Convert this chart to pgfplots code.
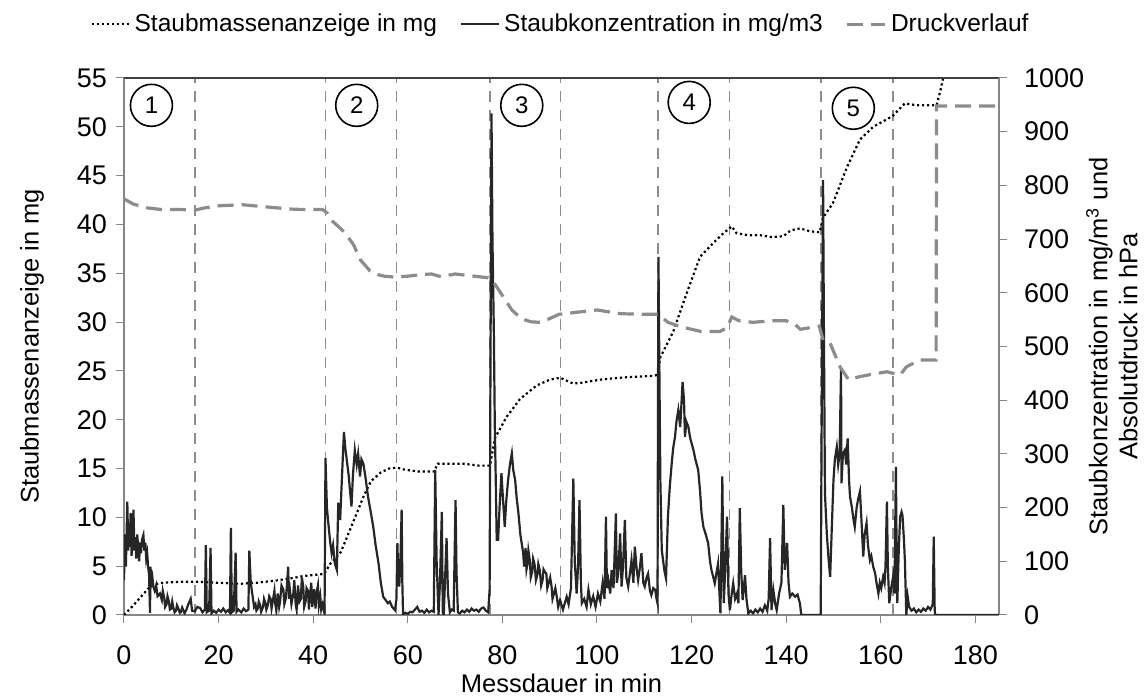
\documentclass[border=0pt]{standalone}
\usepackage{pgfplots}
\pgfplotsset{compat=1.18}
\usepackage{fontspec}
\setmainfont{Liberation Sans}
\definecolor{conc}{HTML}{262626}
\definecolor{druck}{HTML}{8C8C8C}
\definecolor{sepc}{HTML}{8C8C8C}
\definecolor{axisgray}{HTML}{868686}
\begin{document}
\begin{tikzpicture}
\pgfplotsset{
 base/.style={width=437.5pt, height=268.5pt, scale only axis, xmin=0, xmax=185,
   font=\fontsize{13.5}{16}\selectfont,
   /pgf/number format/assume math mode=true,
   /pgf/number format/1000 sep={},
   scaled ticks=false,
   tick align=outside, major tick length=4pt,
   tick style={axisgray, line width=0.5pt},
   axis line style={axisgray, line width=0.6pt},
   label style={font=\fontsize{12.75}{15}\selectfont}},
}
\begin{axis}[base, axis y line*=left, axis x line*=bottom,
  ymin=0, ymax=55, ytick={0,5,...,55}, xtick={0,20,...,180},
  xlabel={Messdauer in min},
  ylabel={Staubmassenanzeige in mg},
  xlabel style={at={(axis description cs:0.5,-0.127)}, anchor=center},
  ylabel style={at={(axis description cs:-0.105,0.5)}, anchor=center},
  xticklabel style={yshift=-8pt},
  yticklabel style={xshift=-1pt}]
\addplot[sepc, line width=0.7pt, dash pattern=on 5.5pt off 4pt, forget plot] coordinates {(15,0)(15,55)};
\addplot[sepc, line width=0.7pt, dash pattern=on 5.5pt off 4pt, forget plot] coordinates {(42.6,0)(42.6,55)};
\addplot[sepc, line width=0.7pt, dash pattern=on 5.5pt off 4pt, forget plot] coordinates {(57.6,0)(57.6,55)};
\addplot[sepc, line width=0.7pt, dash pattern=on 5.5pt off 4pt, forget plot] coordinates {(77.4,0)(77.4,55)};
\addplot[sepc, line width=0.7pt, dash pattern=on 5.5pt off 4pt, forget plot] coordinates {(92.3,0)(92.3,55)};
\addplot[sepc, line width=0.7pt, dash pattern=on 5.5pt off 4pt, forget plot] coordinates {(112.9,0)(112.9,55)};
\addplot[sepc, line width=0.7pt, dash pattern=on 5.5pt off 4pt, forget plot] coordinates {(128.0,0)(128.0,55)};
\addplot[sepc, line width=0.7pt, dash pattern=on 5.5pt off 4pt, forget plot] coordinates {(147.4,0)(147.4,55)};
\addplot[sepc, line width=0.7pt, dash pattern=on 5.5pt off 4pt, forget plot] coordinates {(162.6,0)(162.6,55)};
% Staubmassenanzeige
\addplot[black, line width=1.1pt, dash pattern=on 1.1pt off 1.4pt] coordinates {
(0,0)(2,1)(4,2.1)(5.5,2.9)(7,3.2)(8.3,3.3)(12,3.4)(15.4,3.4)(20,3.3)(24.6,3.2)(28,3.3)(31.7,3.5)(35.9,3.8)(38,4.0)(42.3,4.2)(43.7,5.3)(45.8,6.4)(47,7.8)(48.6,9.7)(50.7,12.2)(52.2,13.7)(54.3,14.6)(56,15.0)(57.7,15.1)(59.2,14.9)(62,14.7)(65.6,14.7)(66.3,15.5)(69.1,15.5)(71.7,15.5)(75,15.3)(77.4,15.3)(78.4,18.1)(80.9,20.3)(83.7,22.1)(87.2,23.5)(90,24.1)(92.2,24.3)(95,23.7)(97,23.8)(100.6,24.1)(104.8,24.3)(108,24.4)(111.9,24.5)(112.9,24.6)(113.3,26.3)(116.1,29.0)(119,33.0)(121.8,36.7)(124.6,38.1)(126.5,39)(128.5,39.8)(129.5,39.1)(132,38.9)(134.5,38.9)(137,38.7)(139.4,38.8)(141,39.4)(142.9,39.6)(145,39.3)(147.1,39.2)(147.8,40.7)(149.9,42.2)(152.8,45.8)(155.6,48.7)(158.4,50.0)(162.5,51.1)(165.1,52.4)(167.6,52.2)(171.8,52.2)(172.5,53.5)(173.2,55)(173.6,56.5)};
\draw[black!75, line width=0.6pt] (rel axis cs:0,1) -- (rel axis cs:1,1);
\node[draw, circle, line width=0.8pt, minimum size=21pt, inner sep=0pt, font=\fontsize{12}{14}\selectfont] at (axis cs:5.8,52.2) {1};
\node[draw, circle, line width=0.8pt, minimum size=21pt, inner sep=0pt, font=\fontsize{12}{14}\selectfont] at (axis cs:49.2,52.2) {2};
\node[draw, circle, line width=0.8pt, minimum size=21pt, inner sep=0pt, font=\fontsize{12}{14}\selectfont] at (axis cs:84.1,52.2) {3};
\node[draw, circle, line width=0.8pt, minimum size=21pt, inner sep=0pt, font=\fontsize{12}{14}\selectfont] at (axis cs:119.5,52.5) {4};
\node[draw, circle, line width=0.8pt, minimum size=21pt, inner sep=0pt, font=\fontsize{12}{14}\selectfont] at (axis cs:154.2,51.9) {5};
\end{axis}
\begin{axis}[base, axis y line*=right, axis x line=none,
  ymin=0, ymax=1000, ytick={0,100,...,1000},
  ylabel={Staubkonzentration in mg/m\textsuperscript{3} und\\Absolutdruck in hPa},
  ylabel style={at={(axis description cs:1.129,0.5)}, anchor=center, align=center},
  yticklabel style={xshift=5pt},
  legend style={at={(axis description cs:0.5,1.1)}, anchor=center, draw=none, fill=none,
     legend columns=3, font=\fontsize{12.25}{14}\selectfont,
     /tikz/every even column/.append style={column sep=9.5pt}},
  legend image code/.code={\draw[#1] (0pt,0pt) -- (19pt,0pt);}]
\addlegendimage{black, line width=1.1pt, dash pattern=on 1.1pt off 1.4pt}
\addlegendentry{Staubmassenanzeige in mg}
% Staubkonzentration
\addplot[conc, line width=1.1pt] coordinates {
(0,65)(0.2,150)(0.4,90)(0.7,211)(0.9,120)(1.1,160)(1.2,127)(1.4,190)(1.6,110)(1.8,140)(2.0,196)(2.2,120)(2.4,145)(2.6,105)(2.8,150)(3.0,125)(3.2,100)(3.4,135)(3.6,115)(3.8,140)(4.1,149)(4.3,120)(4.5,135)(4.7,105)(4.9,115)(5.1,90)(5.3,75)(5.5,4)(5.6,90)(5.8,60)(6.0,70)(6.2,53)(6.5,45)(6.8,55)(7.1,35)(7.6,40)(8.0,28)(8.2,45)(8.5,32)(8.7,15)(9.0,20)(9.2,35)(9.5,25)(9.7,10)(10,12)(10.2,25)(10.4,15)(10.7,5)(11,8)(11.2,18)(11.5,12)(11.8,4)(12,5)(12.3,14)(12.5,10)(12.8,3)(13.2,10)(13.6,20)(14.1,30)(14.4,8)(15,7)(15.5,15)(16.1,13)(16.6,5)(17.1,10)(17.3,130)(17.5,5)(18.0,8)(18.3,125)(18.5,3)(19,8)(19.5,4)(20,10)(20.5,6)(21,12)(21.5,5)(22,9)(22.4,4)(22.6,162)(22.8,5)(23.2,8)(23.6,116)(23.8,6)(24.2,10)(24.8,5)(25.3,12)(25.8,7)(26.3,10)(26.5,120)(26.8,60)(27.3,28)(27.5,15)(27.8,20)(28.0,8)(28.3,12)(28.5,25)(28.8,18)(29.0,6)(29.4,15)(29.6,30)(29.9,22)(30.1,10)(30.4,18)(30.7,35)(31,30)(31.2,12)(31.5,28)(31.8,45)(32,20)(32.2,8)(32.5,40)(32.8,15)(33,25)(33.3,55)(33.7,47)(33.9,20)(34.2,30)(34.5,60)(34.7,90)(34.9,30)(35.1,45)(35.4,20)(35.8,40)(36.0,65)(36.3,20)(36.5,10)(36.8,55)(37.1,25)(37.4,30)(37.6,70)(37.9,53)(38.1,15)(38.4,25)(38.6,50)(38.9,45)(39.1,10)(39.3,34)(39.6,60)(39.8,15)(40.0,30)(40.2,48)(40.5,12)(40.7,40)(41.0,55)(41.2,18)(41.5,35)(41.7,10)(42.0,20)(42.4,3)(42.6,292)(42.9,200)(43.2,171)(43.6,135)(43.9,115)(44.2,130)(44.6,95)(45.0,84)(45.3,209)(45.7,177)(46.1,260)(46.5,341)(46.8,310)(47.1,289)(47.5,260)(47.8,230)(48.1,202)(48.4,260)(48.8,307)(49.2,280)(49.5,300)(49.9,258)(50.2,290)(50.6,282)(51.0,260)(51.3,240)(51.6,220)(52.0,200)(52.3,185)(52.7,164)(53.2,130)(53.8,97)(54.3,60)(54.8,34)(55.3,28)(55.8,22)(56.2,25)(56.7,15)(57.3,9)(57.6,30)(57.8,134)(58.0,70)(58.2,53)(58.5,120)(58.7,196)(58.85,60)(59.0,0)(59.5,4)(60,2)(60.5,6)(61,5)(61.5,10)(62,15)(62.5,6)(63,8)(63.5,4)(64,10)(64.5,5)(65,8)(65.5,6)(65.8,270)(66.1,100)(66.5,0)(66.8,60)(67.2,192)(67.4,5)(67.6,0)(67.9,70)(68.2,143)(68.5,40)(68.9,5)(69.3,10)(69.7,8)(70.1,214)(70.3,80)(70.6,5)(71,3)(71.5,8)(72,5)(72.5,10)(73,6)(73.5,12)(74,8)(74.5,10)(75,6)(75.5,12)(76,14)(76.5,8)(77.0,5)(77.3,47)(77.5,500)(77.7,934)(77.9,700)(78.2,525)(78.4,350)(78.6,251)(78.8,140)(79.1,140)(79.4,200)(79.8,264)(80.1,220)(80.5,164)(80.8,210)(81.2,251)(81.6,280)(82.0,301)(82.3,270)(82.7,251)(83.0,220)(83.4,189)(83.8,150)(84.4,115)(84.6,90)(84.9,125)(85.1,85)(85.3,95)(85.5,120)(85.8,102)(86.0,70)(86.3,80)(86.5,105)(86.8,95)(87.1,65)(87.4,75)(87.6,95)(87.9,84)(88.2,55)(88.5,65)(88.7,85)(89.0,80)(89.3,77)(89.5,50)(89.8,60)(90.1,70)(90.4,53)(90.6,30)(90.9,40)(91.2,50)(91.5,34)(91.8,15)(92.2,28)(92.8,10)(93.3,25)(93.6,34)(94.0,20)(94.5,50)(95.0,254)(95.3,100)(95.7,40)(96.0,90)(96.3,214)(96.6,60)(96.8,22)(97.3,30)(97.8,15)(98.2,47)(98.7,20)(99.2,35)(99.7,15)(100.2,40)(100.7,25)(101.2,60)(101.6,30)(101.9,183)(102.1,50)(102.4,65)(102.8,40)(103.1,84)(103.5,50)(104.0,189)(104.2,60)(104.5,77)(104.9,152)(105.2,53)(105.5,90)(105.9,177)(106.2,70)(106.6,53)(107.0,80)(107.3,102)(107.7,60)(108.0,127)(108.4,85)(108.7,65)(109.1,90)(109.4,115)(109.8,60)(110.1,53)(110.5,70)(110.8,77)(111.2,45)(111.5,37)(111.9,50)(112.3,47)(112.6,30)(112.8,22)(112.9,400)(113.0,667)(113.2,450)(113.4,250)(113.7,121)(114.0,100)(114.3,80)(114.6,68)(115.0,183)(115.4,240)(115.8,282)(116.1,310)(116.5,332)(116.8,360)(117.2,382)(117.6,350)(118.1,434)(118.4,400)(118.6,332)(118.9,360)(119.3,351)(119.7,330)(120.0,320)(120.4,307)(120.8,290)(121.1,280)(121.4,270)(121.8,230)(122.1,190)(122.5,164)(123.0,150)(123.5,134)(123.9,100)(124.2,84)(124.6,70)(124.9,59)(125.3,80)(125.6,96)(125.9,40)(126.1,3)(126.3,120)(126.5,258)(126.7,100)(126.8,22)(127.1,80)(127.5,183)(127.8,40)(128.1,9)(128.5,40)(128.8,59)(129.2,30)(129.6,40)(129.9,22)(130.2,199)(130.5,80)(130.8,28)(131.3,74)(131.6,30)(132.0,3)(132.5,8)(133,3)(133.5,10)(134,5)(134.5,12)(135,6)(135.5,18)(136,8)(136.3,30)(136.6,143)(136.9,9)(137.3,46)(137.7,20)(138.0,9)(138.5,40)(139.0,60)(139.4,205)(139.7,84)(140.0,110)(140.2,134)(140.5,60)(140.8,34)(141.3,40)(141.9,34)(142.4,38)(142.9,22)(143.2,0)(147.3,0)(147.5,350)(147.8,810)(148.0,500)(148.2,227)(148.6,150)(149.0,100)(149.3,71)(149.6,150)(150.0,251)(150.3,290)(150.7,313)(151.0,280)(151.3,300)(151.6,459)(151.7,245)(152.0,300)(152.4,307)(152.7,280)(153.0,329)(153.3,250)(153.5,220)(153.9,200)(154.2,180)(154.5,164)(154.9,200)(155.2,215)(155.6,230)(155.9,180)(156.3,109)(156.6,150)(157.0,171)(157.3,130)(157.7,102)(158.0,110)(158.4,90)(158.8,78)(159.1,60)(159.5,40)(159.8,60)(160.1,50)(160.5,71)(160.8,60)(161.0,90)(161.3,211)(161.5,90)(161.8,22)(162.2,50)(162.6,71)(162.9,40)(163.2,276)(163.4,60)(163.5,22)(163.8,120)(164.1,183)(164.4,192)(164.6,185)(164.9,140)(165.1,102)(165.4,0)(165.7,34)(166.0,15)(166.5,8)(167,12)(167.5,5)(168,10)(168.5,6)(169,12)(169.5,8)(170,15)(170.5,10)(171.0,20)(171.2,146)(171.4,10)(171.5,0)(185,0)};
\addlegendentry{Staubkonzentration in mg/m3}
% Druckverlauf
\addplot[druck, line width=1.6pt, dash pattern=on 8pt off 4pt] coordinates {
(0,775)(2,765)(5,758)(8,755)(12,755)(15,754)(17,758)(20,762)(25,764)(30,760)(35,756)(38,755)(42,755)(43,748)(44,734)(46,718)(47,708)(48.5,690)(50,661)(52,641)(54,633)(55,631)(57.5,629)(60,631)(63,634)(65,635)(67,630)(70,635)(73,632)(77,628)(78.5,615)(80,595)(82,568)(84,552)(86,546)(88,545)(90,552)(92,560)(95,563)(100,568)(105,561)(110,560)(113,560)(115,545)(118,536)(122,528)(126,528)(127.5,535)(128.5,555)(130,548)(133,545)(137,548)(140,548)(142,540)(143,532)(145,535)(147,538)(147.8,512)(149.3,506)(151.4,462)(153.2,438)(155.6,444)(158,448)(161.3,453)(162.6,450)(164.1,447)(165.4,462)(168.3,475)(171.7,475)(171.8,948)(185,948)};
\addlegendentry{Druckverlauf}
\end{axis}
\pgfresetboundingbox
\path[use as bounding box] (-62pt,-42.5pt) rectangle (510pt,307.5pt);
\end{tikzpicture}
\end{document}
